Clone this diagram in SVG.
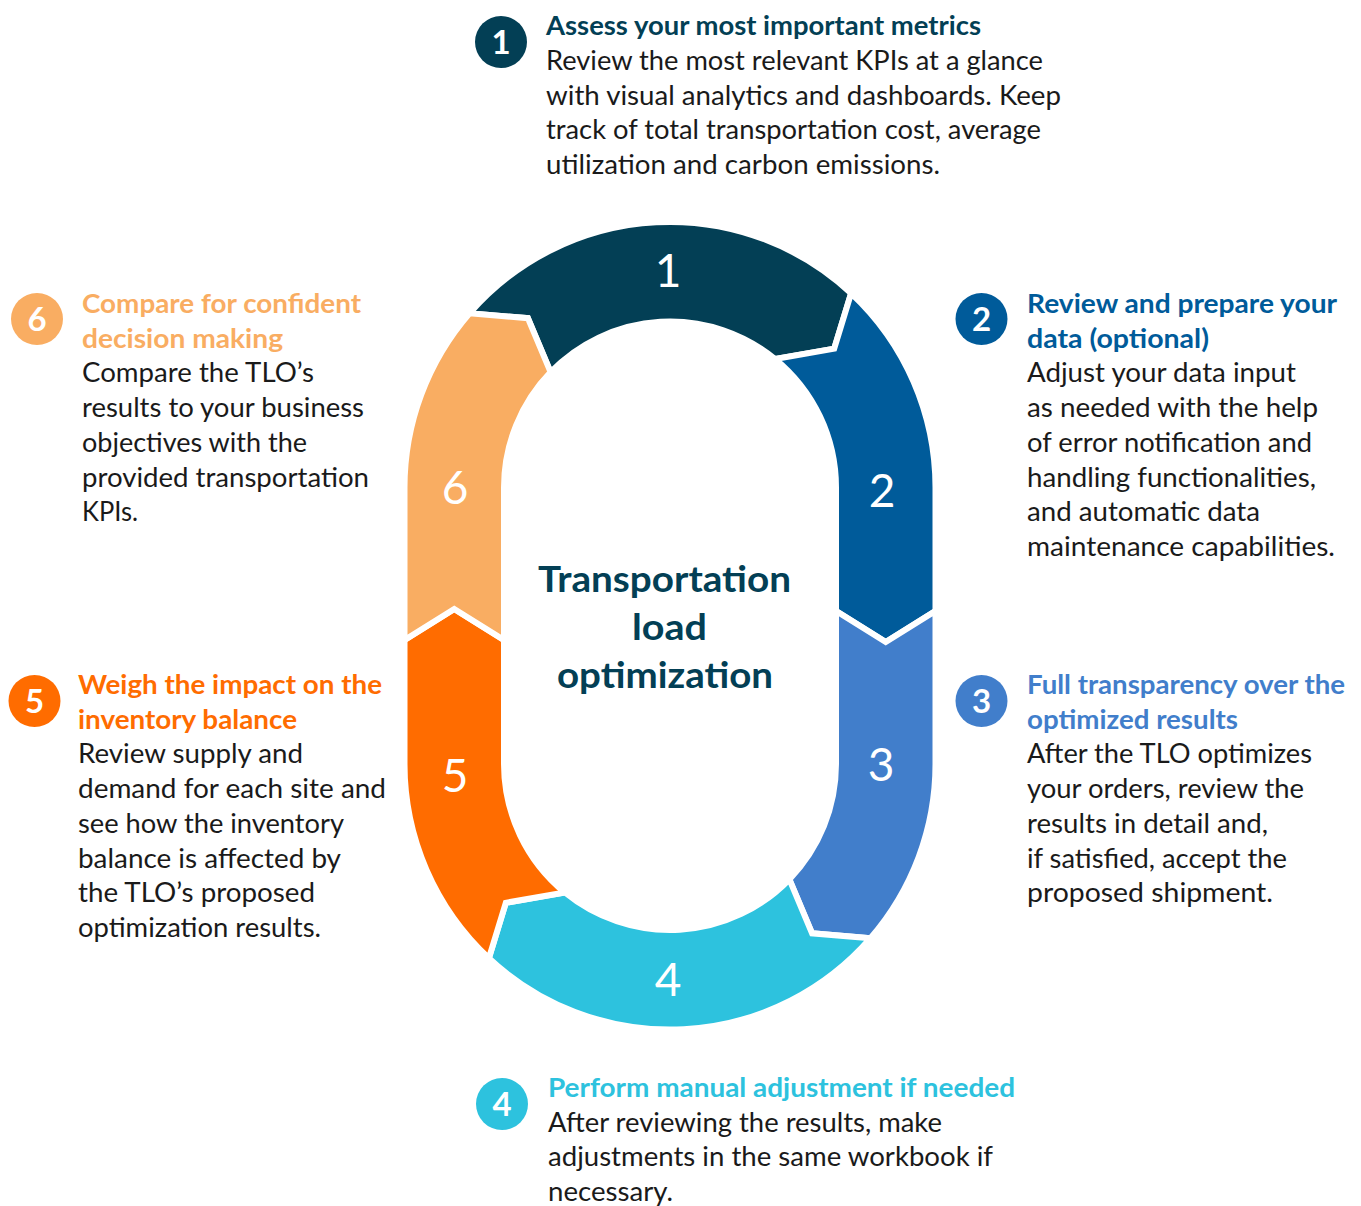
<svg xmlns="http://www.w3.org/2000/svg" width="1361" height="1206" viewBox="0 0 1361 1206">
<style>
  .seg { stroke: #ffffff; stroke-width: 6; stroke-linejoin: miter; }
  .rn { font-family: Lato, "Open Sans", "Liberation Sans", sans-serif; font-size: 46px; fill: #ffffff; text-anchor: middle; }
  .bn { font-family: Lato, "Open Sans", "Liberation Sans", sans-serif; font-size: 33px; font-weight: 700; fill: #ffffff; text-anchor: middle; }
  .h { font-family: Lato, "Open Sans", "Liberation Sans", sans-serif; font-size: 26px; font-weight: 700; }
  .b { font-family: Lato, "Open Sans", "Liberation Sans", sans-serif; font-size: 26px; fill: #1a1a1a; }
  .c { font-family: Lato, "Open Sans", "Liberation Sans", sans-serif; font-size: 37px; font-weight: 700; fill: #033f55; text-anchor: middle; }
  .c1 { fill: #033f55; } .c2 { fill: #005b9a; } .c3 { fill: #417ecb; }
  .c4 { fill: #2dc2de; } .c5 { fill: #ff6c00; } .c6 { fill: #f9ad62; }
</style>
<rect x="0" y="0" width="1361" height="1206" fill="#ffffff"/>
<g id="ring">
  <g id="seg1">
    <path class="seg c1" d="M 469.6 313.3 A 265.5 265.5 0 0 1 851.1 293.3 L 834.2 348.7 L 775.1 359 A 166 166 0 0 0 550.6 372.2 L 527.9 318.2 Z"/>
    <text class="rn" x="668" y="287">1</text>
  </g>
  <g id="seg2">
    <path class="seg c2" d="M 851.1 293.3 A 265.5 265.5 0 0 1 935.5 487.5 L 935.5 611 L 885.75 642 L 836 611 L 836 487.5 A 166 166 0 0 0 775.1 359 L 834.2 348.7 Z"/>
    <text class="rn" x="882" y="507">2</text>
  </g>
  <g id="seg3">
    <path class="seg c3" d="M 935.5 611 L 935.5 764 A 265.5 265.5 0 0 1 870.4 938.2 L 812.1 933.3 L 789.4 879.3 A 166 166 0 0 0 836 764 L 836 611 L 885.75 642 Z"/>
    <text class="rn" x="881" y="781">3</text>
  </g>
  <g id="seg4">
    <path class="seg c4" d="M 870.4 938.2 A 265.5 265.5 0 0 1 488.9 958.2 L 505.8 902.8 L 564.9 892.5 A 166 166 0 0 0 789.4 879.3 L 812.1 933.3 Z"/>
    <text class="rn" x="668" y="996">4</text>
  </g>
  <g id="seg5">
    <path class="seg c5" d="M 488.9 958.2 A 265.5 265.5 0 0 1 404.5 764 L 404.5 640 L 454.25 609 L 504 640 L 504 764 A 166 166 0 0 0 564.9 892.5 L 505.8 902.8 Z"/>
    <text class="rn" x="455" y="792">5</text>
  </g>
  <g id="seg6">
    <path class="seg c6" d="M 404.5 640 L 404.5 487.5 A 265.5 265.5 0 0 1 469.6 313.3 L 527.9 318.2 L 550.6 372.2 A 166 166 0 0 0 504 487.5 L 504 640 L 454.25 609 Z"/>
    <text class="rn" x="455" y="504">6</text>
  </g>
</g>
<g id="center">
  <text class="c" x="664.5" y="592" textLength="253" lengthAdjust="spacingAndGlyphs">Transportation</text>
  <text class="c" x="669.5" y="640" textLength="75" lengthAdjust="spacingAndGlyphs">load</text>
  <text class="c" x="665" y="688" textLength="216" lengthAdjust="spacingAndGlyphs">optimization</text>
</g>
<g id="step1">
  <circle class="c1" cx="501" cy="42" r="26"/>
  <text class="bn" x="501" y="54">1</text>
  <text class="h c1" x="546" y="35" textLength="435" lengthAdjust="spacingAndGlyphs">Assess your most important metrics</text>
  <text class="b" x="546" y="70" textLength="497" lengthAdjust="spacingAndGlyphs">Review the most relevant KPIs at a glance</text>
  <text class="b" x="546" y="104.7" textLength="515" lengthAdjust="spacingAndGlyphs">with visual analytics and dashboards. Keep</text>
  <text class="b" x="546" y="139.4" textLength="495" lengthAdjust="spacingAndGlyphs">track of total transportation cost, average</text>
  <text class="b" x="546" y="174.1" textLength="394" lengthAdjust="spacingAndGlyphs">utilization and carbon emissions.</text>
</g>
<g id="step2">
  <circle class="c2" cx="981.5" cy="319" r="26"/>
  <text class="bn" x="981.5" y="331">2</text>
  <text class="h c2" x="1027" y="313" textLength="310" lengthAdjust="spacingAndGlyphs">Review and prepare your</text>
  <text class="h c2" x="1027" y="347.7" textLength="182" lengthAdjust="spacingAndGlyphs">data (optional)</text>
  <text class="b" x="1027" y="382.4" textLength="269" lengthAdjust="spacingAndGlyphs">Adjust your data input</text>
  <text class="b" x="1027" y="417.1" textLength="291" lengthAdjust="spacingAndGlyphs">as needed with the help</text>
  <text class="b" x="1027" y="451.8" textLength="285" lengthAdjust="spacingAndGlyphs">of error notification and</text>
  <text class="b" x="1027" y="486.5" textLength="289" lengthAdjust="spacingAndGlyphs">handling functionalities,</text>
  <text class="b" x="1027" y="521.2" textLength="233" lengthAdjust="spacingAndGlyphs">and automatic data</text>
  <text class="b" x="1027" y="555.9" textLength="308" lengthAdjust="spacingAndGlyphs">maintenance capabilities.</text>
</g>
<g id="step3">
  <circle class="c3" cx="981.5" cy="701" r="26"/>
  <text class="bn" x="981.5" y="713">3</text>
  <text class="h c3" x="1027" y="694" textLength="318" lengthAdjust="spacingAndGlyphs">Full transparency over the</text>
  <text class="h c3" x="1027" y="728.7" textLength="211" lengthAdjust="spacingAndGlyphs">optimized results</text>
  <text class="b" x="1027" y="763.4" textLength="285" lengthAdjust="spacingAndGlyphs">After the TLO optimizes</text>
  <text class="b" x="1027" y="798.1" textLength="277" lengthAdjust="spacingAndGlyphs">your orders, review the</text>
  <text class="b" x="1027" y="832.8" textLength="241" lengthAdjust="spacingAndGlyphs">results in detail and,</text>
  <text class="b" x="1027" y="867.5" textLength="260" lengthAdjust="spacingAndGlyphs">if satisfied, accept the</text>
  <text class="b" x="1027" y="902.2" textLength="246" lengthAdjust="spacingAndGlyphs">proposed shipment.</text>
</g>
<g id="step4">
  <circle class="c4" cx="502" cy="1104" r="26"/>
  <text class="bn" x="502" y="1116">4</text>
  <text class="h c4" x="548" y="1097" textLength="467" lengthAdjust="spacingAndGlyphs">Perform manual adjustment if needed</text>
  <text class="b" x="548" y="1131.7" textLength="394" lengthAdjust="spacingAndGlyphs">After reviewing the results, make</text>
  <text class="b" x="548" y="1166.4" textLength="445" lengthAdjust="spacingAndGlyphs">adjustments in the same workbook if</text>
  <text class="b" x="548" y="1201.1" textLength="125" lengthAdjust="spacingAndGlyphs">necessary.</text>
</g>
<g id="step5">
  <circle class="c5" cx="34.5" cy="701" r="26"/>
  <text class="bn" x="34.5" y="713">5</text>
  <text class="h c5" x="78" y="694" textLength="304" lengthAdjust="spacingAndGlyphs">Weigh the impact on the</text>
  <text class="h c5" x="78" y="728.7" textLength="219" lengthAdjust="spacingAndGlyphs">inventory balance</text>
  <text class="b" x="78" y="763.4" textLength="225" lengthAdjust="spacingAndGlyphs">Review supply and</text>
  <text class="b" x="78" y="798.1" textLength="308" lengthAdjust="spacingAndGlyphs">demand for each site and</text>
  <text class="b" x="78" y="832.8" textLength="266" lengthAdjust="spacingAndGlyphs">see how the inventory</text>
  <text class="b" x="78" y="867.5" textLength="263" lengthAdjust="spacingAndGlyphs">balance is affected by</text>
  <text class="b" x="78" y="902.2" textLength="237" lengthAdjust="spacingAndGlyphs">the TLO’s proposed</text>
  <text class="b" x="78" y="936.9" textLength="243" lengthAdjust="spacingAndGlyphs">optimization results.</text>
</g>
<g id="step6">
  <circle class="c6" cx="37" cy="319" r="26"/>
  <text class="bn" x="37" y="331">6</text>
  <text class="h c6" x="82" y="313" textLength="279" lengthAdjust="spacingAndGlyphs">Compare for confident</text>
  <text class="h c6" x="82" y="347.7" textLength="201" lengthAdjust="spacingAndGlyphs">decision making</text>
  <text class="b" x="82" y="382.4" textLength="232" lengthAdjust="spacingAndGlyphs">Compare the TLO’s</text>
  <text class="b" x="82" y="417.1" textLength="282" lengthAdjust="spacingAndGlyphs">results to your business</text>
  <text class="b" x="82" y="451.8" textLength="225" lengthAdjust="spacingAndGlyphs">objectives with the</text>
  <text class="b" x="82" y="486.5" textLength="287" lengthAdjust="spacingAndGlyphs">provided transportation</text>
  <text class="b" x="82" y="521.2" textLength="56" lengthAdjust="spacingAndGlyphs">KPIs.</text>
</g>
</svg>
